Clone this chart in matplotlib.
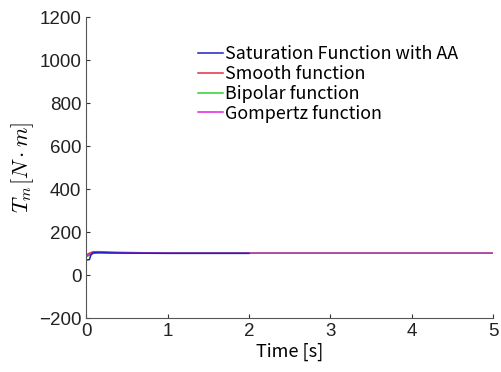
import matplotlib
matplotlib.use("Agg")
import matplotlib.pyplot as plt

# torque response per control law
t_sat = [0.0, 0.04, 0.06, 0.09, 0.2, 0.5, 1.0, 2.0]
tm_sat = [70, 72, 95, 104, 104, 102, 101, 101]

t_smooth = [0.0, 0.03, 0.08, 0.15, 0.35, 1.0, 3.0, 5.0]
tm_smooth = [92, 100, 108, 109, 106, 102, 102, 102]

t_bipolar = [0.0, 0.04, 0.08, 0.15, 0.3, 1.0, 3.0, 5.0]
tm_bipolar = [85, 92, 100, 104, 103, 102, 102, 102]

t_gomp = [0.0, 0.04, 0.08, 0.15, 0.3, 1.0, 3.0, 5.0]
tm_gomp = [88, 95, 104, 106, 104, 102, 102, 102]

labels = ["Saturation Function with AA", "Smooth function",
          "Bipolar function", "Gompertz function"]
colors = ["#2020c0", "#e03040", "#30d030", "#e020e0"]

plt.rcParams['font.family'] = ['Noto Sans CJK JP', 'DejaVu Sans']
plt.rcParams['mathtext.fontset'] = 'cm'

fig = plt.figure(figsize=(5.01, 3.72), dpi=100)
ax = fig.add_axes([0.172, 0.145, 0.812, 0.809])

ax.plot(t_smooth, tm_smooth, color=colors[1], lw=1.1, label=labels[1])
ax.plot(t_bipolar, tm_bipolar, color=colors[2], lw=1.1, label=labels[2])
ax.plot(t_gomp, tm_gomp, color=colors[3], lw=1.1, label=labels[3])
ax.plot(t_sat, tm_sat, color=colors[0], lw=1.1, label=labels[0])

ax.set_xlim(0, 5)
ax.set_ylim(-200, 1200)
ax.set_xticks([0, 1, 2, 3, 4, 5])
ax.set_yticks(range(-200, 1201, 200))
ax.tick_params(direction='in', length=3, colors='#333333', labelcolor='#222222')
for lab in ax.get_xticklabels() + ax.get_yticklabels():
    lab.set_fontfamily('Liberation Sans')
    lab.set_fontsize(13.5)
for s in ['top', 'right']:
    ax.spines[s].set_visible(False)
for s in ['left', 'bottom']:
    ax.spines[s].set_color('#555555')

ax.set_xlabel("Time [s]", fontsize=13, labelpad=2)
ax.set_ylabel(r"$T_m[N\cdot m]$", fontsize=16, labelpad=2)

h, l = ax.get_legend_handles_labels()
order = [3, 0, 1, 2]
ax.legend([h[i] for i in order], [l[i] for i in order], frameon=False,
          fontsize=12.9, handlelength=1.4, handletextpad=0.1, labelspacing=0.1,
          loc='upper left', bbox_to_anchor=(0.235, 0.96))

fig.savefig("out.png", dpi=100)
